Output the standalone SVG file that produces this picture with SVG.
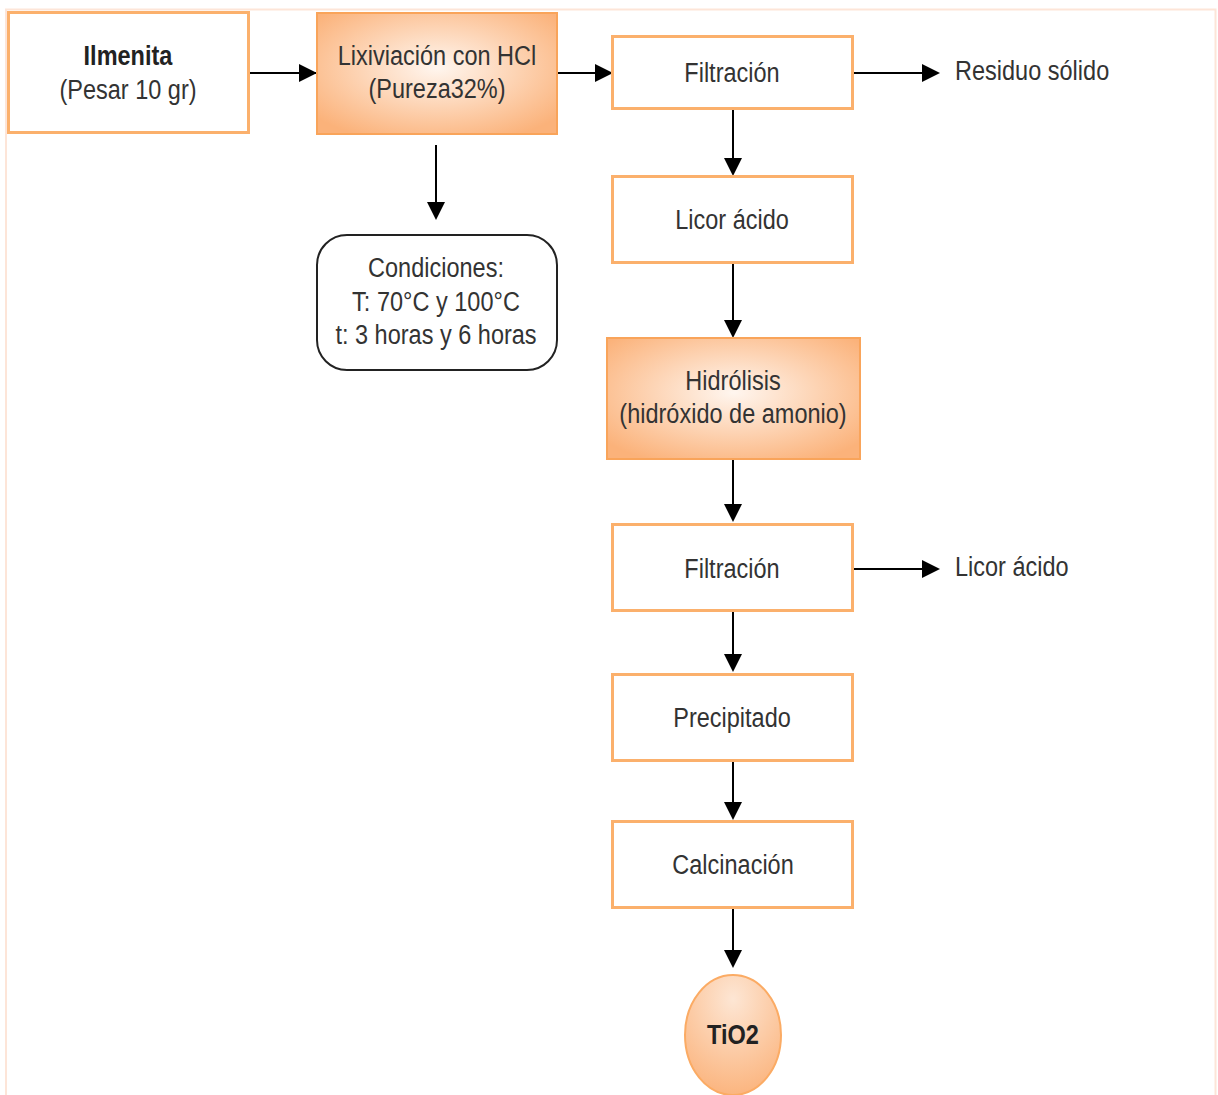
<svg xmlns="http://www.w3.org/2000/svg" width="1218" height="1095" viewBox="0 0 1218 1095">
<defs>
<style>
.box{fill:#fff;stroke:#fbb06c;stroke-width:3}
.gbox{fill:url(#rg);stroke:#f9a45a;stroke-width:2}
.t{font-family:"Liberation Sans",Arial,sans-serif;font-size:28px;fill:#333;text-anchor:middle}
.tl{font-family:"Liberation Sans",Arial,sans-serif;font-size:28px;fill:#333;text-anchor:start}
.b{font-weight:bold;fill:#222}
.c{stroke:#000;stroke-width:2;fill:none;marker-end:url(#ah)}
</style>
<radialGradient id="rg" cx="50%" cy="45%" r="65%">
<stop offset="0" stop-color="#fff6ef"/>
<stop offset="1" stop-color="#fbb27a"/>
</radialGradient>
<radialGradient id="eg" cx="50%" cy="20%" r="85%">
<stop offset="0" stop-color="#fde6d4"/>
<stop offset="1" stop-color="#fbb27a"/>
</radialGradient>
<marker id="ah" viewBox="0 0 10 10" refX="10" refY="5" markerWidth="9" markerHeight="9" markerUnits="userSpaceOnUse" orient="auto">
<path d="M0,0 L10,5 L0,10 z" fill="#000"/>
</marker>
</defs>
<rect x="0" y="0" width="1218" height="1095" fill="#fff"/>
<rect x="6" y="9.5" width="1209.5" height="1090" fill="none" stroke="#fde5d8" stroke-width="2"/>
<g id="connectors">
<line class="c" x1="249" y1="73" x2="317" y2="73" style="marker-end:none"/>
<path d="M299,64 L317,73 L299,82 z"/>
<line x1="557" y1="73" x2="600" y2="73" stroke="#000" stroke-width="2"/>
<path d="M595,64 L613,73 L595,82 z"/>
<line x1="853" y1="73" x2="926" y2="73" stroke="#000" stroke-width="2"/>
<path d="M922,64 L940,73 L922,82 z"/>
<line x1="436" y1="145" x2="436" y2="205" stroke="#000" stroke-width="2"/>
<path d="M427,202 L445,202 L436,220 z"/>
<line x1="733" y1="109" x2="733" y2="162" stroke="#000" stroke-width="2"/>
<path d="M724,158 L742,158 L733,176 z"/>
<line x1="733" y1="263" x2="733" y2="324" stroke="#000" stroke-width="2"/>
<path d="M724,320 L742,320 L733,338 z"/>
<line x1="733" y1="459" x2="733" y2="508" stroke="#000" stroke-width="2"/>
<path d="M724,504 L742,504 L733,522 z"/>
<line x1="853" y1="569" x2="926" y2="569" stroke="#000" stroke-width="2"/>
<path d="M922,560 L940,569 L922,578 z"/>
<line x1="733" y1="611" x2="733" y2="658" stroke="#000" stroke-width="2"/>
<path d="M724,654 L742,654 L733,672 z"/>
<line x1="733" y1="761" x2="733" y2="806" stroke="#000" stroke-width="2"/>
<path d="M724,802 L742,802 L733,820 z"/>
<line x1="733" y1="908" x2="733" y2="954" stroke="#000" stroke-width="2"/>
<path d="M724,950 L742,950 L733,968 z"/>
</g>
<g id="n-ilmenita">
<rect class="box" x="8.5" y="12.5" width="240" height="120"/>
<text class="t b" transform="translate(128 65) scale(0.84 1)">Ilmenita</text>
<text class="t" transform="translate(128 99) scale(0.84 1)">(Pesar 10 gr)</text>
</g>
<g id="n-lixiviacion">
<rect class="gbox" x="317" y="13" width="240" height="121"/>
<text class="t" transform="translate(437 65) scale(0.84 1)">Lixiviación con HCl</text>
<text class="t" transform="translate(437 98) scale(0.84 1)">(Pureza32%)</text>
</g>
<g id="n-condiciones">
<rect x="317" y="235" width="240" height="135" rx="30" ry="30" fill="#fff" stroke="#222" stroke-width="2"/>
<text class="t" transform="translate(436 277) scale(0.84 1)">Condiciones:</text>
<text class="t" transform="translate(436 311) scale(0.84 1)">T: 70°C y 100°C</text>
<text class="t" transform="translate(436 344) scale(0.84 1)">t: 3 horas y 6 horas</text>
</g>
<g id="n-filtracion1">
<rect class="box" x="612.5" y="36.5" width="240" height="72"/>
<text class="t" transform="translate(732 82) scale(0.84 1)">Filtración</text>
</g>
<g id="n-residuo">
<text class="tl" transform="translate(955 80) scale(0.84 1)">Residuo sólido</text>
</g>
<g id="n-licor1">
<rect class="box" x="612.5" y="176.5" width="240" height="86"/>
<text class="t" transform="translate(732 229) scale(0.84 1)">Licor ácido</text>
</g>
<g id="n-hidrolisis">
<rect class="gbox" x="607" y="338" width="253" height="121"/>
<text class="t" transform="translate(733 390) scale(0.84 1)">Hidrólisis</text>
<text class="t" transform="translate(733 423) scale(0.84 1)">(hidróxido de amonio)</text>
</g>
<g id="n-filtracion2">
<rect class="box" x="612.5" y="524.5" width="240" height="86"/>
<text class="t" transform="translate(732 578) scale(0.84 1)">Filtración</text>
</g>
<g id="n-licor2">
<text class="tl" transform="translate(955 576) scale(0.84 1)">Licor ácido</text>
</g>
<g id="n-precipitado">
<rect class="box" x="612.5" y="674.5" width="240" height="86"/>
<text class="t" transform="translate(732 727) scale(0.84 1)">Precipitado</text>
</g>
<g id="n-calcinacion">
<rect class="box" x="612.5" y="821.5" width="240" height="86"/>
<text class="t" transform="translate(733 874) scale(0.84 1)">Calcinación</text>
</g>
<g id="n-tio2">
<ellipse cx="733" cy="1035" rx="48" ry="60" fill="url(#eg)" stroke="#fbab64" stroke-width="2"/>
<text class="t b" transform="translate(733 1044) scale(0.84 1)">TiO2</text>
</g>
</svg>
